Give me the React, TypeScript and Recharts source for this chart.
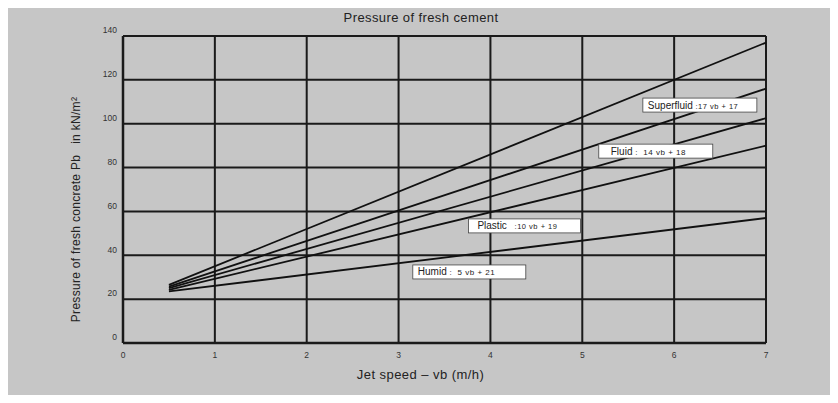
import {
  LineChart,
  Line,
  XAxis,
  YAxis,
  CartesianGrid,
  ReferenceDot,
  Label,
} from "recharts";

// jet speed vb (m/h) where each line starts and ends
const speeds = [0.5, 7];

// pressure Pb (kN/m2) at those speeds
const humid = [23.5, 57];
const plastic = [24.2, 90];
const middle = [25, 102.5];
const fluid = [25.7, 116];
const superfluid = [26.5, 137];

const xTicks = [0, 1, 2, 3, 4, 5, 6, 7];
const yTicks = [0, 20, 40, 60, 80, 100, 120, 140];

// boxed notes: name, formula
const noteNames = ["Superfluid", "Fluid", "Plastic", "Humid"];
const noteFormulas = [" :17 vb + 17", " :  14 vb + 18", "   :10 vb + 19", " :  5 vb + 21"];
// note centres, in chart units (vb, Pb)
const noteSpots = [
  { vb: 6.28, pb: 108.5 },
  { vb: 5.8, pb: 87.5 },
  { vb: 4.37, pb: 53.4 },
  { vb: 3.77, pb: 32.4 },
];

const data = speeds.map((vb, i) => ({
  vb,
  humid: humid[i],
  plastic: plastic[i],
  middle: middle[i],
  fluid: fluid[i],
  superfluid: superfluid[i],
}));

const FONT = '"Liberation Sans", Arial, Helvetica, sans-serif';
const INK = "#1a1a1a";
const BG = "#c6c6c6";

const noteWidths = [114, 114, 112, 113];
const notePads = [5, 12, 9, 5];
const formulaSizes = [7.5, 8, 7.5, 8];

const nb = (s: string) => s.replace(/ /g, "\u00a0");

const makeNote = (i: number) => (props: any) => {
  const { cx, cy } = props;
  const w = noteWidths[i];
  const h = 14;
  return (
    <g>
      <rect
        x={cx - w / 2}
        y={cy - h / 2}
        width={w}
        height={h}
        fill="#ffffff"
        stroke="#444"
        strokeWidth={0.8}
      />
      <text
        x={cx - w / 2 + notePads[i]}
        y={cy + 3.5}
        fill="#222"
        fontFamily={FONT}
      >
        <tspan fontSize={10}>{noteNames[i]}</tspan>
        <tspan fontSize={formulaSizes[i]} letterSpacing={0.5}>
          {nb(noteFormulas[i])}
        </tspan>
      </text>
    </g>
  );
};

const YTick = (props: any) => {
  const { x, y, payload } = props;
  return (
    <text
      x={x}
      y={y - 5}
      textAnchor="end"
      dominantBaseline="middle"
      fontSize={8.5}
      fill="#333"
      fontFamily={FONT}
    >
      {payload.value}
    </text>
  );
};

const series = ["humid", "plastic", "middle", "fluid", "superfluid"];

export default function App() {
  return (
    <div
      style={{
        position: "relative",
        margin: -8,
        width: 838,
        height: 403,
        background: "#fff",
        overflow: "hidden",
        fontFamily: FONT,
      }}
    >
      <div
        style={{
          position: "absolute",
          left: 7,
          top: 0,
          width: 831,
          height: 403,
          background: BG,
        }}
      />
      <div
        style={{
          position: "absolute",
          left: 0,
          top: 0,
          width: 242,
          height: 8,
          background: "#fff",
        }}
      />
      <div
        style={{
          position: "absolute",
          left: 0,
          top: 10,
          width: 842,
          textAlign: "center",
          fontSize: 13,
          letterSpacing: 0.4,
          lineHeight: "16px",
          color: "#222",
        }}
      >
        Pressure of fresh cement
      </div>
      <div style={{ position: "absolute", left: 0, top: 0 }}>
        <LineChart
          width={838}
          height={403}
          data={data}
          margin={{ top: 36, right: 72, bottom: 20, left: 63 }}
        >
          <CartesianGrid stroke={INK} strokeWidth={2} />
          <XAxis
            dataKey="vb"
            type="number"
            domain={[0, 7]}
            ticks={xTicks}
            height={40}
            tickLine={false}
            tickSize={6}
            tickMargin={3}
            axisLine={{ stroke: INK, strokeWidth: 2.5 }}
            tick={{ fontSize: 8.5, fill: "#333", fontFamily: FONT }}
          >
            <Label
              content={(p: any) => {
                const vb = p.viewBox;
                return (
                  <text
                    x={vb.x + vb.width / 2 - 24}
                    y={vb.y + 36}
                    textAnchor="middle"
                    fontSize={13}
                    letterSpacing={0.45}
                    fill="#222"
                    fontFamily={FONT}
                  >
                    Jet speed – vb (m/h)
                  </text>
                );
              }}
            />
          </XAxis>
          <YAxis
            type="number"
            domain={[0, 140]}
            ticks={yTicks}
            width={60}
            tickLine={false}
            tickSize={6}
            tickMargin={0}
            axisLine={{ stroke: INK, strokeWidth: 2.5 }}
            tick={<YTick />}
          >
            <Label
              content={(p: any) => {
                const vb = p.viewBox;
                const cx = vb.x + 14;
                const cy = vb.y + vb.height / 2 + 20;
                return (
                  <text
                    x={cx}
                    y={cy}
                    transform={`rotate(-90 ${cx} ${cy})`}
                    textAnchor="middle"
                    dominantBaseline="middle"
                    fontSize={12}
                    letterSpacing={0.3}
                    fill="#222"
                    fontFamily={FONT}
                  >
                    Pressure of fresh concrete Pb{"\u00a0\u00a0\u00a0"}in kN/m²
                  </text>
                );
              }}
            />
          </YAxis>
          {series.map((k) => (
            <Line
              key={k}
              dataKey={k}
              type="linear"
              stroke="#111"
              strokeWidth={1.8}
              dot={false}
              activeDot={false}
              isAnimationActive={false}
            />
          ))}
          {noteSpots.map((s, i) => (
            <ReferenceDot
              key={noteNames[i]}
              x={s.vb}
              y={s.pb}
              r={0}
              shape={makeNote(i)}
            />
          ))}
        </LineChart>
      </div>
    </div>
  );
}
